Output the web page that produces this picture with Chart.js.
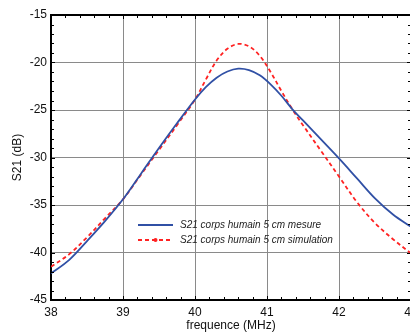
<!DOCTYPE html>
<html>
<head>
<meta charset="utf-8">
<script src="https://cdn.jsdelivr.net/npm/chart.js@4.4.1/dist/chart.umd.min.js"></script>
<style>
  html, body { margin: 0; padding: 0; background: #fff; overflow: hidden; }
  #wrap { width: 410px; height: 336px; overflow: hidden; position: relative; }
  #wrap canvas { position: absolute; left: 0; top: 0; }
</style>
</head>
<body>
<div id="wrap"><canvas id="s21Chart" width="430" height="336"></canvas></div>
<script>
// frequencies (MHz) and S21 values (dB)
const freq = [38, 38.25, 38.5, 38.75, 39, 39.25, 39.5, 39.75, 40, 40.15, 40.3, 40.45, 40.6,
              40.75, 40.9, 41.05, 41.2, 41.35, 41.5, 41.75, 42, 42.25, 42.5, 42.75, 43];
const mesure = [-42.2, -40.8, -38.8, -36.7, -34.4, -31.7, -29.0, -26.4, -23.9, -22.6, -21.6, -20.95, -20.65,
                -20.8, -21.35, -22.3, -23.5, -24.9, -26.1, -28.1, -30.1, -32.2, -34.3, -36.0, -37.3];
const simulation = [-41.5, -40.2, -38.4, -36.4, -34.4, -31.8, -29.2, -26.6, -23.9, -21.8, -19.8, -18.55, -18.05,
                    -18.3, -19.3, -21.0, -23.0, -24.9, -26.6, -29.3, -32.0, -34.7, -36.9, -38.6, -40.1];
const xTicks = [38, 39, 40, 41, 42, 43];
const yTicks = [-45, -40, -35, -30, -25, -20, -15];

const labels = ['S21 corps humain 5 cm mesure', 'S21 corps humain 5 cm simulation'];
const blue = '#3050a5';
const red = '#ff2222';
const font = "'Liberation Sans', Arial, sans-serif";

// small inside ticks like the original plot
const minorTicks = {
    id: 'minorTicks',
    afterDatasetsDraw(chart) {
        const {ctx, chartArea: a, scales: {x, y}} = chart;
        ctx.save();
        ctx.strokeStyle = '#000';
        ctx.lineWidth = 1;
        ctx.beginPath();
        for (let i = 0; i <= 25; i++) {
            const px = Math.round(x.getPixelForValue(38 + i * 0.2)) + 0.5;
            const len = i % 5 === 0 ? 4 : 3;
            ctx.moveTo(px, a.bottom); ctx.lineTo(px, a.bottom - len);
            ctx.moveTo(px, a.top); ctx.lineTo(px, a.top + len);
        }
        for (let i = 0; i <= 30; i++) {
            const py = Math.round(y.getPixelForValue(-45 + i)) + 0.5;
            const len = i % 5 === 0 ? 4 : 3;
            ctx.moveTo(a.left, py); ctx.lineTo(a.left + len, py);
            ctx.moveTo(a.right, py); ctx.lineTo(a.right - len, py);
        }
        ctx.stroke();
        ctx.restore();
    }
};

// legend drawn inside the plot area
const innerLegend = {
    id: 'innerLegend',
    afterDraw(chart) {
        const ctx = chart.ctx;
        const x0 = 138, x1 = 173, tx = 180;
        const rows = [225, 240];
        ctx.save();
        ctx.font = 'italic 10px ' + font;
        ctx.textBaseline = 'middle';
        ctx.fillStyle = '#222';
        chart.data.datasets.forEach((ds, i) => {
            const yy = rows[i];
            ctx.strokeStyle = ds.borderColor;
            ctx.lineWidth = 2;
            ctx.setLineDash(ds.borderDash || []);
            ctx.beginPath();
            ctx.moveTo(x0, yy); ctx.lineTo(x1, yy);
            ctx.stroke();
            ctx.setLineDash([]);
            if (i === 1) {
                ctx.fillStyle = ds.borderColor;
                ctx.beginPath();
                ctx.arc((x0 + x1) / 2, yy, 2, 0, Math.PI * 2);
                ctx.fill();
                ctx.fillStyle = '#222';
            }
            ctx.fillText(ds.label, tx, yy);
        });
        ctx.restore();
    }
};

const data = {
    datasets: [
        {
            label: labels[0],
            data: freq.map((f, i) => ({x: f, y: mesure[i]})),
            borderColor: blue,
            borderWidth: 1.8,
            pointRadius: 0,
            tension: 0.35
        },
        {
            label: labels[1],
            data: freq.map((f, i) => ({x: f, y: simulation[i]})),
            borderColor: red,
            borderWidth: 1.8,
            borderDash: [4, 3],
            pointRadius: 0,
            tension: 0.35
        }
    ]
};

const options = {
    responsive: false,
    animation: false,
    layout: { padding: { left: 0, top: 15, right: 19, bottom: 0 } },
    plugins: { legend: { display: false }, tooltip: { enabled: false } },
    scales: {
        x: {
            type: 'linear',
            min: 38, max: 43,
            afterBuildTicks: s => { s.ticks = xTicks.map(v => ({value: v})); },
            afterFit: s => { s.height = 36; },
            border: { color: '#000', width: 2 },
            grid: { color: '#8a8a8a', lineWidth: 1, drawTicks: false },
            ticks: { padding: 5, color: '#111', font: { family: font, size: 12 }, maxRotation: 0 },
            title: { display: true, text: 'frequence (MHz)', color: '#111',
                     font: { family: font, size: 12 }, padding: { top: 0, bottom: 3 } }
        },
        y: {
            min: -45, max: -15,
            afterBuildTicks: s => { s.ticks = yTicks.map(v => ({value: v})); },
            afterFit: s => { s.width = 51; },
            border: { color: '#000', width: 2 },
            grid: {
                drawTicks: false,
                color: ctx => ctx.tick && ctx.tick.value === -15 ? '#000' : '#8a8a8a',
                lineWidth: ctx => ctx.tick && ctx.tick.value === -15 ? 2 : 1
            },
            ticks: { padding: 4, color: '#111', font: { family: font, size: 12 } },
            title: { display: true, text: 'S21 (dB)', color: '#111',
                     font: { family: font, size: 12 }, padding: { top: 10, bottom: 0 } }
        }
    }
};

const ctx = document.getElementById('s21Chart');
const myChart = new Chart(ctx, {
    type: 'line',
    data: data,
    options: options,
    plugins: [minorTicks, innerLegend]
});
</script>
</body>
</html>
